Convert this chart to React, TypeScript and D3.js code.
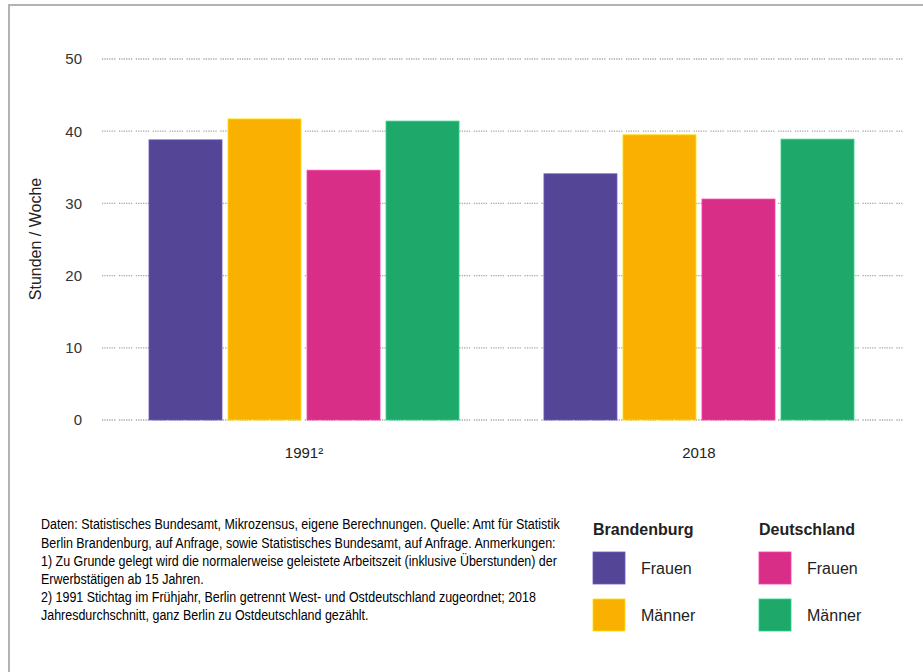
import * as React from 'react';
import * as d3 from 'd3';

const years = ['1991²', '2018'];
const seriesKeys = ['bbFrauen', 'bbMaenner', 'deFrauen', 'deMaenner'];
const seriesColors = ['#554596', '#f9b000', '#d92e87', '#1ea86a'];
const bbFrauen = [38.8, 34.1];
const bbMaenner = [41.7, 39.5];
const deFrauen = [34.6, 30.6];
const deMaenner = [41.4, 38.9];
const yTicks = [0, 10, 20, 30, 40, 50];

const legendGroups = ['Brandenburg', 'Deutschland'];
const legendLabels = ['Frauen', 'Männer'];

const sourceLines = [
    'Daten: Statistisches Bundesamt, Mikrozensus, eigene Berechnungen. Quelle: Amt für Statistik',
    'Berlin Brandenburg, auf Anfrage, sowie Statistisches Bundesamt, auf Anfrage. Anmerkungen:',
    '1) Zu Grunde gelegt wird die normalerweise geleistete Arbeitszeit (inklusive Überstunden) der',
    'Erwerbstätigen ab 15 Jahren.',
    '2) 1991 Stichtag im Frühjahr, Berlin getrennt West- und Ostdeutschland zugeordnet; 2018',
    'Jahresdurchschnitt, ganz Berlin zu Ostdeutschland gezählt.',
];

const W = 923;
const H = 672;
const font = '"Liberation Sans", Arial, sans-serif';

const App: React.FunctionComponent = () => {
    const ref = React.useRef<SVGSVGElement>(null);

    React.useEffect(() => {
        if (!ref.current) {
            return;
        }
        const svg = d3.select(ref.current);
        svg.selectAll('*').remove();

        const values = [bbFrauen, bbMaenner, deFrauen, deMaenner];
        const rows = years.map((year, i) => ({ year, vals: values.map(v => v[i]) }));

        const y = d3.scaleLinear().domain([0, 50]).range([420, 59]);
        const x0 = d3.scaleBand().domain(years).range([102, 901]).paddingInner(0.215).paddingOuter(0.119);
        const x1 = d3.scaleBand().domain(seriesKeys).range([0, x0.bandwidth()]).paddingInner(0.076);

        // frame
        svg.append('path')
            .attr('d', `M9,${H} L9,5 L${W},5`)
            .attr('fill', 'none')
            .attr('stroke', '#b3b3b3')
            .attr('stroke-width', 2);

        // grid
        const grid = svg.append('g');
        grid.selectAll('line')
            .data(yTicks)
            .join('line')
            .attr('x1', 102)
            .attr('x2', 903)
            .attr('y1', d => y(d))
            .attr('y2', d => y(d))
            .attr('stroke', '#a8a8a8')
            .attr('stroke-width', 1.3)
            .attr('stroke-dasharray', '1.3 1.1 1.3 1.1 1.3 1.1 1.3 1.1 1.3 1.1 1.3 3.6');

        grid.selectAll('text')
            .data(yTicks)
            .join('text')
            .attr('x', 82)
            .attr('y', d => y(d))
            .attr('dy', '0.36em')
            .attr('text-anchor', 'end')
            .attr('font-family', font)
            .attr('font-size', 15)
            .attr('fill', '#333')
            .text(d => d);

        svg.append('text')
            .attr('transform', 'translate(41,239) rotate(-90)')
            .attr('text-anchor', 'middle')
            .attr('font-family', font)
            .attr('font-size', 16)
            .attr('fill', '#222')
            .text('Stunden / Woche');

        // bars
        const groups = svg.selectAll('g.group')
            .data(rows)
            .join('g')
            .attr('class', 'group')
            .attr('transform', d => `translate(${x0(d.year)},0)`);

        groups.selectAll('rect')
            .data(d => d.vals.map((v, i) => ({ key: seriesKeys[i], v, c: seriesColors[i] })))
            .join('rect')
            .attr('x', d => x1(d.key) as number)
            .attr('width', x1.bandwidth())
            .attr('y', d => y(d.v))
            .attr('height', d => y(0) - y(d.v))
            .attr('fill', d => d.c)
            .attr('stroke', d => d3.color(d.c)!.brighter(0.7).formatHex())
            .attr('stroke-width', 0.8);

        svg.selectAll('text.year')
            .data(years)
            .join('text')
            .attr('class', 'year')
            .attr('x', d => (x0(d) as number) + x0.bandwidth() / 2)
            .attr('y', 458)
            .attr('text-anchor', 'middle')
            .attr('font-family', font)
            .attr('font-size', 15)
            .attr('fill', '#222')
            .text(d => d);

        // source notes, squeezed horizontally like the condensed original
        svg.append('g')
            .attr('transform', 'translate(41,0) scale(0.89,1)')
            .selectAll('text')
            .data(sourceLines)
            .join('text')
            .attr('x', 0)
            .attr('y', (d, i) => 529.5 + i * 18.2)
            .attr('font-family', font)
            .attr('font-size', 14)
            .attr('fill', '#000')
            .text(d => d);

        // legend
        const legend = svg.append('g');
        legendGroups.forEach((g, gi) => {
            const lx = 593 + gi * 166;
            legend.append('text')
                .attr('x', lx)
                .attr('y', 535)
                .attr('font-family', font)
                .attr('font-size', 16)
                .attr('font-weight', 'bold')
                .attr('fill', '#222')
                .text(g);
            legendLabels.forEach((lab, li) => {
                const c = seriesColors[gi * 2 + li];
                const ly = 552 + li * 47;
                legend.append('rect')
                    .attr('x', lx)
                    .attr('y', ly)
                    .attr('width', 32)
                    .attr('height', 32)
                    .attr('fill', c)
                    .attr('stroke', d3.color(c)!.brighter(0.7).formatHex())
                    .attr('stroke-width', 0.8);
                legend.append('text')
                    .attr('x', lx + 48)
                    .attr('y', ly + 16)
                    .attr('dy', '0.36em')
                    .attr('font-family', font)
                    .attr('font-size', 16)
                    .attr('fill', '#222')
                    .text(lab);
            });
        });
    });

    return (
        <svg
            ref={ref}
            width={W}
            height={H}
            style={{ position: 'absolute', left: 0, top: 0, background: '#fff' }}
        />
    );
};

export default App;
